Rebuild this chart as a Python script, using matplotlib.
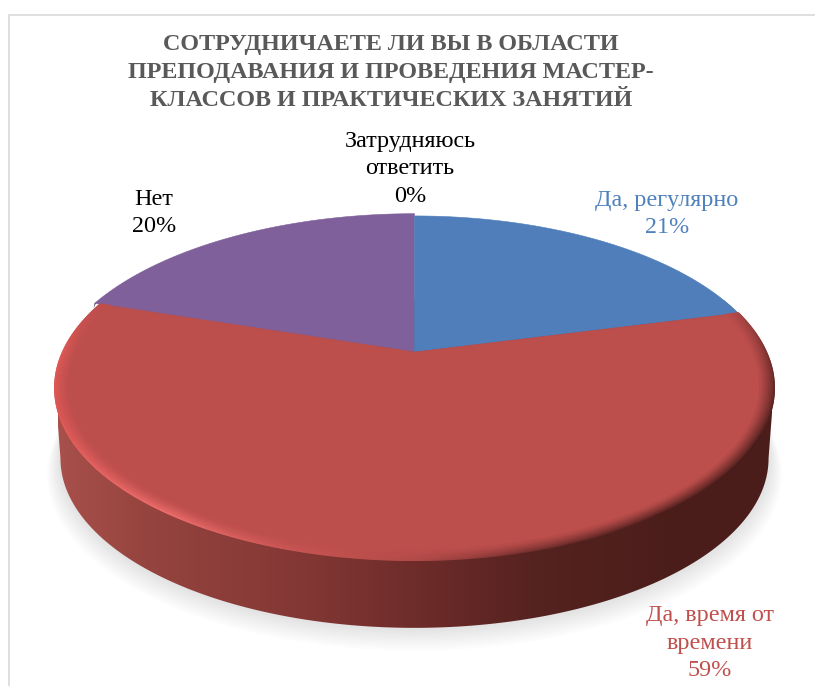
import numpy as np
from matplotlib import pyplot as plt
from matplotlib.collections import LineCollection
from matplotlib.patches import Polygon

plt.rcParams['font.family'] = ['Liberation Serif', 'DejaVu Serif']

title = 'СОТРУДНИЧАЕТЕ ЛИ ВЫ В ОБЛАСТИ\nПРЕПОДАВАНИЯ И ПРОВЕДЕНИЯ МАСТЕР-\nКЛАССОВ И ПРАКТИЧЕСКИХ ЗАНЯТИЙ'
categories = ['Да, регулярно', 'Да, время от\nвремени', 'Нет', 'Затрудняюсь\nответить']
values = [21, 59, 20, 0]
colors = ['#4F7EBA', '#BC4E4C', '#7F609A', '#98B954']
label_colors = ['#4F81BD', '#C0504D', 'black', 'black']
label_pos = [(667, 214), (710, 643), (154, 213), (410, 169)]
radius = [1.0, 1.0, 1.02, 1.0]

# perspective of the pie disc, in picture pixels
CX, CY = 414.5, 352
A, B, K = 351.5, 164.5, 0.209


def project(theta, r=1.0, s=1.0, dy=0.0):
    x = r * np.sin(theta)
    y = r * np.cos(theta)
    d = 1 + K * y
    return np.column_stack((CX + s * A * x / d, CY + dy - s * B * y / d))


def mix(c1, c2, t):
    return np.asarray(c1) * (1 - t) + np.asarray(c2) * t


fig = plt.figure(figsize=(8.15, 6.86), dpi=100)
ax = fig.add_axes([0, 0, 1, 1])
ax.set_xlim(0, 815)
ax.set_ylim(686, 0)
ax.axis('off')

# chart border, only top and left are in the picture
ax.plot([9, 9, 815], [686, 14.5, 14.5], color='#D9D9D9', lw=1.2, zorder=1)

ring = np.linspace(0, 2 * np.pi, 721)

# soft shadow under the disc
for i in range(14):
    grow = 1.022 - i * 0.004
    ax.add_patch(Polygon(project(ring, s=grow, dy=86 - i * 1.6), closed=True, fc='black',
                         ec='none', alpha=0.01, zorder=2))

# side wall with a left to right shading, clipped to the outline
top = project(ring)
bottom = project(ring, s=0.985, dy=71)
i_left, i_right = np.argmin(bottom[:, 0]), np.argmax(bottom[:, 0])
j_left, j_right = np.argmin(top[:, 0]), np.argmax(top[:, 0])
wall = np.vstack((bottom[i_right:i_left + 1], top[j_left:], top[:j_right + 1]))
wall_patch = Polygon(wall, closed=True, fc='none', ec='none', transform=ax.transData)
ax.add_patch(wall_patch)
stops_x = [0, 0.12, 0.35, 0.5, 0.68, 0.85, 1]
stops = np.array([[168, 80, 75], [150, 68, 63], [130, 55, 52], [110, 44, 42],
                  [84, 34, 31], [76, 30, 27], [74, 29, 26]]) / 255
u = np.linspace(0, 1, 256)
grad = np.stack([np.interp(u, stops_x, stops[:, c]) for c in range(3)], axis=1)[None, :, :]
im = ax.imshow(grad, extent=(58, 772, 640, 300), aspect='auto', zorder=3)
im.set_clip_path(wall_patch)
ax.set_xlim(0, 815)
ax.set_ylim(686, 0)

# slices of the top face, from the values
edges = np.cumsum([0] + values) / sum(values) * 2 * np.pi
for i in [2, 0, 1]:
    t = np.linspace(edges[i], edges[i + 1], 200)
    pts = np.vstack(([[CX, CY]], project(t, r=radius[i])))
    ax.add_patch(Polygon(pts, closed=True, fc=colors[i], ec=colors[i], lw=0.4, zorder=4))

# dark sliver of the purple slice edge
t0 = edges[2]
p = project(np.array([t0, t0 + 0.012]), r=radius[2])
ax.add_patch(Polygon(np.vstack((p, p[0] + [-1, 5])), closed=True, fc='#3E3355', ec='none', zorder=3.5))

# bevel along the rim of the big slice
rim_t = np.linspace(edges[1], edges[2], 500)
rim_key = np.radians([75, 95, 120, 145, 165, 180, 195, 215, 250, 270, 288])
rim_cols = np.array([[165, 70, 68], [110, 44, 42], [70, 28, 26], [74, 29, 27], [115, 48, 46],
                     [178, 74, 72], [200, 84, 82], [238, 110, 108], [222, 88, 86],
                     [222, 88, 86], [190, 78, 76]]) / 255
base = np.array([188, 78, 76]) / 255
rim_col = np.stack([np.interp(rim_t, rim_key, rim_cols[:, c]) for c in range(3)], axis=1)
for k in range(9):
    pts = project(rim_t, r=1 - k * 0.0045)
    segs = np.stack((pts[:-1], pts[1:]), axis=1)
    f = (k / 9) ** 0.8
    ax.add_collection(LineCollection(segs, colors=mix(rim_col[:-1], base, f), lw=1.5,
                                     capstyle='round', zorder=5))

ax.text(391, 72.5, title, ha='center', va='center', fontsize=17.4, fontweight='bold',
        color='#595959', linespacing=1.42, zorder=6)

for name, v, pos, c in zip(categories, values, label_pos, label_colors):
    ax.text(pos[0], pos[1], '%s\n%d%%' % (name, v), ha='center', va='center', fontsize=17.4,
            color=c, linespacing=1.39, zorder=6)

fig.savefig('out.png', dpi=100)
